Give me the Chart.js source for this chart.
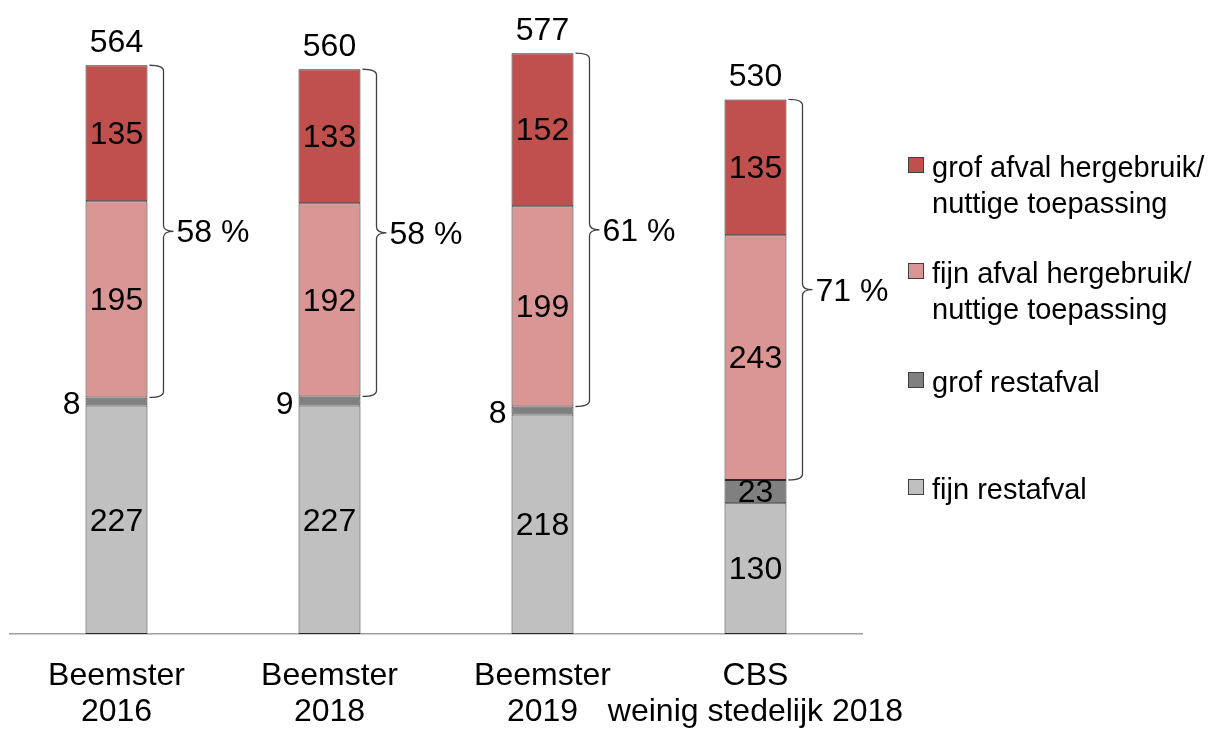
<!DOCTYPE html>
<html>
<head>
<meta charset="utf-8">
<script src="https://cdn.jsdelivr.net/npm/chart.js@4/dist/chart.umd.min.js"></script>
<style>
  body { margin: 0; background: #fff; }
  #wrap { width: 1218px; height: 731px; position: relative; }
</style>
</head>
<body>
<div id="wrap"><canvas id="chart"></canvas></div>
<script>
const categories = [['Beemster', '2016'], ['Beemster', '2018'], ['Beemster', '2019'], ['CBS', 'weinig stedelijk 2018']];
const fijnRest = [227, 227, 218, 130];
const grofRest = [8, 9, 8, 23];
const fijnHergebruik = [195, 192, 199, 243];
const grofHergebruik = [135, 133, 152, 135];
const totals = [564, 560, 577, 530];
const percentages = [58, 58, 61, 71];

const FONT = '"Liberation Sans", Arial, sans-serif';

// legend entries, top to bottom (reverse of stacking order)
const legendItems = [
  { lines: ['grof afval hergebruik/', 'nuttige toepassing'], color: '#C0504D' },
  { lines: ['fijn afval hergebruik/', 'nuttige toepassing'], color: '#D99694' },
  { lines: ['grof restafval'], color: '#808080' },
  { lines: ['fijn restafval'], color: '#C0C0C0' }
];

const labelPlugin = {
  id: 'barLabels',
  afterDatasetsDraw(chart) {
    const ctx = chart.ctx;
    ctx.save();
    ctx.fillStyle = '#000';
    ctx.font = '32px ' + FONT;
    ctx.textBaseline = 'middle';

    // values in the segments
    chart.data.datasets.forEach((ds, di) => {
      const meta = chart.getDatasetMeta(di);
      meta.data.forEach((bar, i) => {
        const h = bar.base - bar.y;
        const cy = (bar.y + bar.base) / 2 + 2;
        if (h < 20) {
          ctx.textAlign = 'right';
          ctx.fillText(ds.data[i], bar.x - bar.width / 2 - 5, cy + 2);
        } else {
          ctx.textAlign = 'center';
          ctx.fillText(ds.data[i], bar.x, cy);
        }
      });
    });

    // totals above, brackets + percentages to the right
    const topMeta = chart.getDatasetMeta(3);
    const restMeta = chart.getDatasetMeta(1);
    topMeta.data.forEach((bar, i) => {
      ctx.textAlign = 'center';
      ctx.textBaseline = 'alphabetic';
      ctx.fillText(totals[i], bar.x, bar.y - 13);

      const right = bar.x + bar.width / 2;
      const top = bar.y;
      const bottom = restMeta.data[i].y;
      const mid = (top + bottom) / 2;
      const xs = right + 2, xv = right + 16, xc = right + 26, r = 6;
      ctx.strokeStyle = '#404040';
      ctx.lineWidth = 1.3;
      ctx.beginPath();
      ctx.moveTo(xs, top);
      ctx.quadraticCurveTo(xv, top, xv, top + r);
      ctx.lineTo(xv, mid - r);
      ctx.quadraticCurveTo(xv, mid, xc, mid);
      ctx.quadraticCurveTo(xv, mid, xv, mid + r);
      ctx.lineTo(xv, bottom - r);
      ctx.quadraticCurveTo(xv, bottom, xs, bottom);
      ctx.stroke();

      ctx.textAlign = 'left';
      ctx.textBaseline = 'middle';
      ctx.fillText(percentages[i] + ' %', xc + 3, mid + 2);
    });
    ctx.restore();
  },
  afterDraw(chart) {
    const ctx = chart.ctx;
    ctx.save();
    ctx.font = '29px ' + FONT;
    ctx.textAlign = 'left';
    ctx.textBaseline = 'alphabetic';
    const baselines = [177, 283, 392, 499];
    legendItems.forEach((item, k) => {
      const b = baselines[k];
      ctx.fillStyle = item.color;
      ctx.fillRect(908, b - 20, 16, 16);
      ctx.strokeStyle = '#404040';
      ctx.lineWidth = 1;
      ctx.strokeRect(908.5, b - 19.5, 15, 15);
      ctx.fillStyle = '#000';
      item.lines.forEach((line, j) => ctx.fillText(line, 932, b + j * 36));
    });
    ctx.restore();
  }
};

const barStyle = { borderColor: '#2a2a2a', borderWidth: 1, borderSkipped: false, barPercentage: 0.291, categoryPercentage: 1 };

new Chart(document.getElementById('chart'), {
  type: 'bar',
  data: {
    labels: categories,
    datasets: [
      { label: 'fijn restafval', data: fijnRest, backgroundColor: '#C0C0C0', ...barStyle },
      { label: 'grof restafval', data: grofRest, backgroundColor: '#808080', ...barStyle },
      { label: 'fijn afval hergebruik/nuttige toepassing', data: fijnHergebruik, backgroundColor: '#D99694', ...barStyle },
      { label: 'grof afval hergebruik/nuttige toepassing', data: grofHergebruik, backgroundColor: '#C0504D', ...barStyle }
    ]
  },
  options: {
    responsive: true,
    maintainAspectRatio: false,
    animation: false,
    layout: { padding: { left: 10, right: 356, top: 30, bottom: 0 } },
    plugins: { legend: { display: false }, tooltip: { enabled: false } },
    scales: {
      x: {
        stacked: true,
        grid: { display: false, drawTicks: false },
        border: { display: true, color: '#A0A0A0', width: 1.5 },
        ticks: { color: '#000', padding: 24, autoSkip: false, maxRotation: 0, font: { family: FONT, size: 32, lineHeight: 1.13 } },
        afterFit(scale) { scale.height = 97; }
      },
      y: {
        stacked: true,
        display: false,
        min: 0,
        max: 600
      }
    }
  },
  plugins: [labelPlugin]
});
</script>
</body>
</html>
